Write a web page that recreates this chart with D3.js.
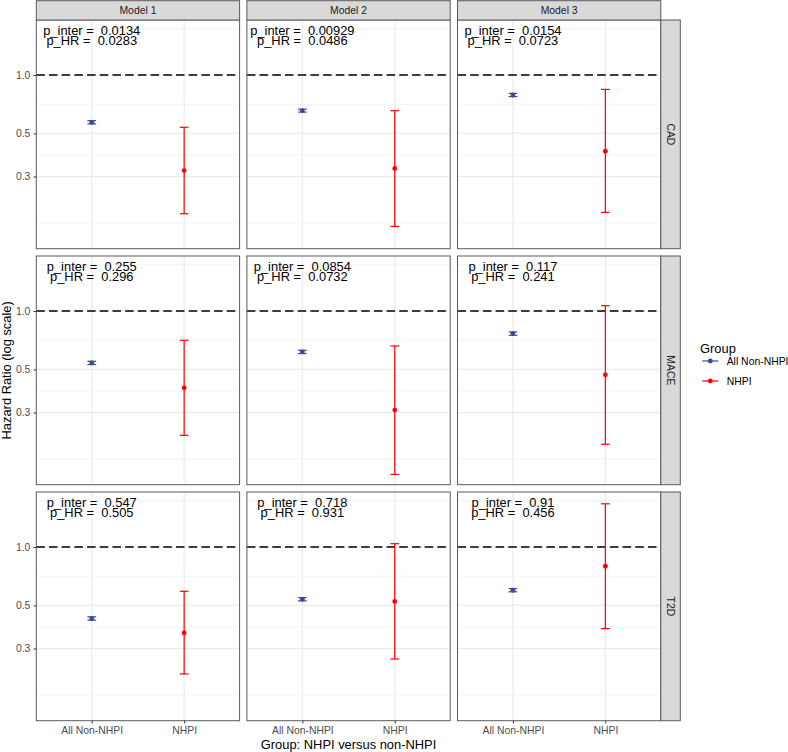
<!DOCTYPE html>
<html>
<head>
<meta charset="utf-8">
<script src="https://cdn.jsdelivr.net/npm/d3@7"></script>
<style>
  html, body { margin: 0; padding: 0; background: #fff; }
  svg { display: block; font-family: "Liberation Sans", Arial, Helvetica, sans-serif; }
</style>
</head>
<body>
<svg id="chart" width="788" height="752"></svg>
<script>
// ---------------- data ----------------
const models = ["Model 1", "Model 2", "Model 3"];
const outcomes = ["CAD", "MACE", "T2D"];
const groups = ["All Non-NHPI", "NHPI"];

// rows = outcomes (CAD, MACE, T2D), columns = models
const hrNonNHPI = [[0.571, 0.655, 0.789], [0.540, 0.616, 0.765], [0.428, 0.538, 0.599]];
const loNonNHPI = [[0.560, 0.644, 0.774], [0.530, 0.604, 0.750], [0.420, 0.528, 0.588]];
const hiNonNHPI = [[0.582, 0.667, 0.804], [0.551, 0.628, 0.780], [0.437, 0.549, 0.611]];

const hrNHPI = [[0.322, 0.330, 0.405], [0.402, 0.309, 0.469], [0.361, 0.524, 0.796]];
const loNHPI = [[0.193, 0.166, 0.196], [0.229, 0.144, 0.206], [0.222, 0.265, 0.380]];
const hiNHPI = [[0.538, 0.655, 0.843], [0.707, 0.661, 1.065], [0.592, 1.040, 1.669]];

const pInter = [["0.0134", "0.00929", "0.0154"], ["0.255", "0.0854", "0.117"], ["0.547", "0.718", "0.91"]];
const pHR = [["0.0283", "0.0486", "0.0723"], ["0.296", "0.0732", "0.241"], ["0.505", "0.931", "0.456"]];

const yTicks = [0.3, 0.5, 1.0];
const yMinorTicks = [0.173, 0.387, 0.707, 1.73];
const yDomain = [0.1275, 1.92];
const refLine = 1.0;
const labelY = 1.58;

const groupColors = ["#3B4992", "#FF0000"];

// ---------------- layout ----------------
const svg = d3.select("#chart");
const W = 788, H = 752;
const panelLeft = 36.3, panelW = 203.3, gapX = 7.3;
const panelTop = 20, panelH = 228.7, gapY = 7.3;
const stripH = 19.3, stripW = 19.5;
const font = "\"Liberation Sans\", Arial, Helvetica, sans-serif";
const borderCol = "#5a5a5a";
const smallFont = 10.4, bigFont = 12.9;

const x = d3.scalePoint().domain(groups).range([0, panelW]).padding(0.6);
const y = d3.scaleLog().domain(yDomain).range([panelH, 0]);

svg.append("rect").attr("width", W).attr("height", H).attr("fill", "#fff");

const cells = [];
outcomes.forEach((o, r) => {
  models.forEach((m, c) => {
    cells.push({r, c, o, m,
      pts: [
        {g: groups[0], hr: hrNonNHPI[r][c], lo: loNonNHPI[r][c], hi: hiNonNHPI[r][c], col: groupColors[0]},
        {g: groups[1], hr: hrNHPI[r][c], lo: loNHPI[r][c], hi: hiNHPI[r][c], col: groupColors[1]}
      ]});
  });
});

cells.forEach(p => {
  const px = panelLeft + p.c * (panelW + gapX);
  const py = panelTop + p.r * (panelH + gapY);
  const g = svg.append("g").attr("transform", `translate(${px},${py})`);

  g.append("rect").attr("width", panelW).attr("height", panelH).attr("fill", "#fff");

  // minor grid
  g.selectAll(".minor").data(yMinorTicks).enter().append("line")
    .attr("x1", 0).attr("x2", panelW)
    .attr("y1", d => y(d)).attr("y2", d => y(d))
    .attr("stroke", "#EBEBEB").attr("stroke-width", 0.6);
  // major grid
  g.selectAll(".majorY").data(yTicks).enter().append("line")
    .attr("x1", 0).attr("x2", panelW)
    .attr("y1", d => y(d)).attr("y2", d => y(d))
    .attr("stroke", "#EBEBEB").attr("stroke-width", 1.2);
  g.selectAll(".majorX").data(groups).enter().append("line")
    .attr("x1", d => x(d)).attr("x2", d => x(d))
    .attr("y1", 0).attr("y2", panelH)
    .attr("stroke", "#EBEBEB").attr("stroke-width", 1.2);

  // reference line
  g.append("line").attr("x1", 0).attr("x2", panelW)
    .attr("y1", y(refLine)).attr("y2", y(refLine))
    .attr("stroke", "#000").attr("stroke-width", 1.5)
    .attr("stroke-dasharray", "8.5,4.2");

  // error bars + points
  const hw = 4.35;
  p.pts.forEach(d => {
    const cx = x(d.g);
    const eg = g.append("g").attr("stroke", d.col).attr("stroke-width", 1.2).attr("fill", "none");
    eg.append("line").attr("x1", cx).attr("x2", cx).attr("y1", y(d.lo)).attr("y2", y(d.hi));
    eg.append("line").attr("x1", cx - hw).attr("x2", cx + hw).attr("y1", y(d.lo)).attr("y2", y(d.lo));
    eg.append("line").attr("x1", cx - hw).attr("x2", cx + hw).attr("y1", y(d.hi)).attr("y2", y(d.hi));
    g.append("circle").attr("cx", cx).attr("cy", y(d.hr)).attr("r", 2.4).attr("fill", d.col);
  });

  // annotation
  const tx = x(groups[0]);
  const ty = y(labelY);
  const t = g.append("text").attr("text-anchor", "middle")
    .attr("font-size", bigFont).attr("fill", "#000");
  t.append("tspan").attr("x", tx).attr("y", ty - 1.5)
    .text("p_inter =\u00A0\u00A0" + pInter[p.r][p.c]);
  t.append("tspan").attr("x", tx).attr("y", ty + 9)
    .text("p_HR =\u00A0\u00A0" + pHR[p.r][p.c]);

  // border
  g.append("rect").attr("width", panelW).attr("height", panelH)
    .attr("fill", "none").attr("stroke", borderCol).attr("stroke-width", 1);

  // top strips
  if (p.r === 0) {
    const s = svg.append("g").attr("transform", `translate(${px},${panelTop - stripH})`);
    s.append("rect").attr("width", panelW).attr("height", stripH)
      .attr("fill", "#D9D9D9").attr("stroke", borderCol).attr("stroke-width", 1);
    s.append("text").attr("x", panelW / 2).attr("y", stripH / 2).attr("dy", "0.35em")
      .attr("text-anchor", "middle").attr("font-size", smallFont).attr("fill", "#1A1A1A").text(p.m);
  }
  // right strips
  if (p.c === models.length - 1) {
    const s = svg.append("g").attr("transform", `translate(${px + panelW},${py})`);
    s.append("rect").attr("width", stripW).attr("height", panelH)
      .attr("fill", "#D9D9D9").attr("stroke", borderCol).attr("stroke-width", 1);
    s.append("text").attr("transform", `translate(${stripW / 2},${panelH / 2}) rotate(90)`)
      .attr("dy", "0.35em").attr("text-anchor", "middle")
      .attr("font-size", smallFont).attr("fill", "#1A1A1A").text(p.o);
  }

  // y axis
  if (p.c === 0) {
    const ax = g.append("g").call(d3.axisLeft(y).tickValues(yTicks)
      .tickFormat(d3.format(".1f")).tickSize(2.75).tickPadding(3.2));
    ax.select(".domain").remove();
    ax.selectAll(".tick line").attr("stroke", "#333").attr("stroke-width", 1);
    ax.selectAll(".tick text").attr("fill", "#4D4D4D").attr("font-size", smallFont).attr("font-family", font);
  }
  // x axis
  if (p.r === outcomes.length - 1) {
    const ax = g.append("g").attr("transform", `translate(0,${panelH})`)
      .call(d3.axisBottom(x).tickSize(2.75).tickPadding(3.5));
    ax.select(".domain").remove();
    ax.selectAll(".tick line").attr("stroke", "#333").attr("stroke-width", 1);
    ax.selectAll(".tick text").attr("fill", "#4D4D4D").attr("font-size", smallFont).attr("font-family", font);
  }
});

// axis titles
const gridBottom = panelTop + 3 * panelH + 2 * gapY;
const gridRight = panelLeft + 3 * panelW + 2 * gapX;
svg.append("text").attr("x", (panelLeft + gridRight) / 2).attr("y", 748.5)
  .attr("text-anchor", "middle").attr("font-size", bigFont).attr("fill", "#000")
  .text("Group: NHPI versus non-NHPI");
svg.append("text")
  .attr("transform", `translate(10.8,${(panelTop + gridBottom) / 2}) rotate(-90)`)
  .attr("text-anchor", "middle").attr("font-size", bigFont).attr("fill", "#000")
  .text("Hazard Ratio (log scale)");

// legend
const lg = svg.append("g").attr("transform", "translate(700,0)");
lg.append("text").attr("x", 0).attr("y", 352.5).attr("font-size", bigFont).attr("fill", "#000").text("Group");
groups.forEach((gname, i) => {
  const cy = 361 + i * 20;
  lg.append("line").attr("x1", 2.3).attr("x2", 18.3).attr("y1", cy).attr("y2", cy)
    .attr("stroke", groupColors[i]).attr("stroke-width", 1.2);
  lg.append("circle").attr("cx", 10.3).attr("cy", cy).attr("r", 2.4).attr("fill", groupColors[i]);
  lg.append("text").attr("x", 26.7).attr("y", cy).attr("dy", "0.35em")
    .attr("font-size", smallFont).attr("fill", "#000").text(gname);
});
</script>
</body>
</html>
